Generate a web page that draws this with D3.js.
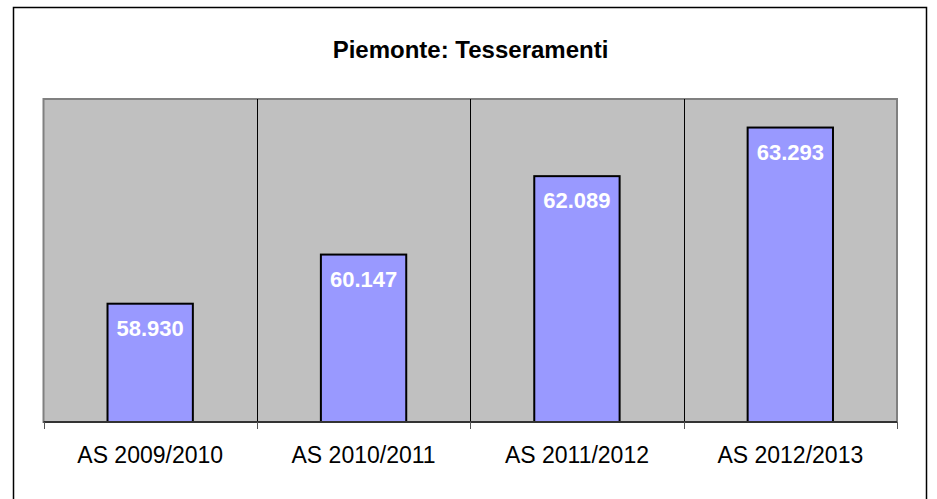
<!DOCTYPE html>
<html>
<head>
<meta charset="utf-8">
<script src="https://cdn.jsdelivr.net/npm/d3@7/dist/d3.min.js"></script>
<style>
  html, body { margin: 0; padding: 0; background: #fff; }
  svg { display: block; }
</style>
</head>
<body>
<svg id="chart" width="937" height="499"></svg>
<script>
// Tesseramenti per stagione sportiva – Piemonte
const title = "Piemonte: Tesseramenti";
const categories = ["AS 2009/2010", "AS 2010/2011", "AS 2011/2012", "AS 2012/2013"];
const values = [58930, 60147, 62089, 63293];
const yDomain = [56000, 64000];

const svg = d3.select("#chart");
const W = 937, H = 499;
const plot = { left: 43.5, right: 897, top: 99, bottom: 422 };

const fmt = d3.formatLocale({ decimal: ",", thousands: ".", grouping: [3], currency: ["€", ""] }).format(",d");

// Outer chart frame
svg.append("rect")
  .attr("x", 13.5).attr("y", 7.5)
  .attr("width", 913).attr("height", 520)
  .attr("fill", "#fff").attr("stroke", "#000").attr("stroke-width", 1.5);

// Title
svg.append("text")
  .attr("x", (13.5 + 926.5) / 2 + 0.5).attr("y", 58)
  .attr("text-anchor", "middle")
  .attr("font-family", "Liberation Sans, Arial, sans-serif")
  .attr("font-weight", "bold").attr("font-size", 24)
  .attr("fill", "#000")
  .text(title);

const x = d3.scaleBand()
  .domain(categories)
  .range([plot.left, plot.right])
  .paddingInner(0.6).paddingOuter(0.3);

const y = d3.scaleLinear().domain(yDomain).range([plot.bottom, plot.top]);

// Plot background
svg.append("rect")
  .attr("x", plot.left).attr("y", plot.top)
  .attr("width", plot.right - plot.left).attr("height", plot.bottom - plot.top)
  .attr("fill", "#c0c0c0").attr("stroke", "#808080").attr("stroke-width", 2);

// Category separators
const step = x.step();
const bounds = d3.range(categories.length + 1).map(i => plot.left + i * step);
svg.append("g").selectAll("line")
  .data(bounds.slice(1, -1))
  .join("line")
  .attr("x1", d => Math.round(d) + 0.5).attr("x2", d => Math.round(d) + 0.5)
  .attr("y1", plot.top).attr("y2", plot.bottom)
  .attr("stroke", "#000").attr("stroke-width", 1);

// Bars
svg.append("g").selectAll("rect")
  .data(values)
  .join("rect")
  .attr("x", (d, i) => x(categories[i]))
  .attr("y", d => y(d))
  .attr("width", x.bandwidth())
  .attr("height", d => plot.bottom - y(d))
  .attr("fill", "#9999ff").attr("stroke", "#000").attr("stroke-width", 2);

// Value labels inside bars
svg.append("g").selectAll("text")
  .data(values)
  .join("text")
  .attr("x", (d, i) => x(categories[i]) + x.bandwidth() / 2)
  .attr("y", d => y(d) + 32)
  .attr("text-anchor", "middle")
  .attr("font-family", "Liberation Sans, Arial, sans-serif")
  .attr("font-weight", "bold").attr("font-size", 22)
  .attr("fill", "#fff")
  .text(d => fmt(d));

// Category axis
const xAxis = d3.axisBottom(x).tickSize(0).tickPadding(0);
const gx = svg.append("g").attr("transform", `translate(0,${plot.bottom})`).call(xAxis);
gx.select(".domain").remove();
gx.selectAll("text")
  .attr("y", 41).attr("dy", null)
  .attr("font-family", "Liberation Sans, Arial, sans-serif")
  .attr("font-size", 23).attr("fill", "#000");

svg.append("line")
  .attr("x1", plot.left).attr("x2", plot.right)
  .attr("y1", plot.bottom).attr("y2", plot.bottom)
  .attr("stroke", "#333").attr("stroke-width", 2);

svg.append("g").selectAll("line")
  .data(bounds)
  .join("line")
  .attr("x1", d => Math.round(d) + 0.5).attr("x2", d => Math.round(d) + 0.5)
  .attr("y1", plot.bottom).attr("y2", plot.bottom + 7)
  .attr("stroke", "#555").attr("stroke-width", 1);
</script>
</body>
</html>
